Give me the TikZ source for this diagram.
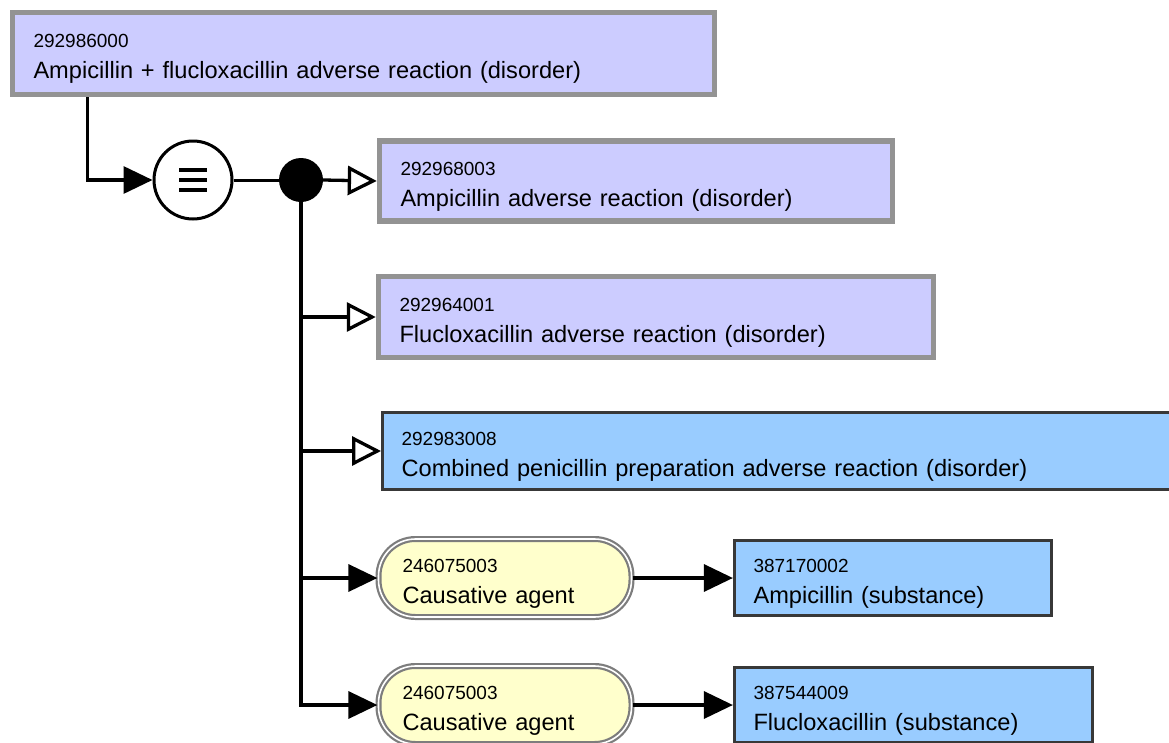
\documentclass[tikz,border=0pt]{standalone}
\usepackage{fontspec}
\setmainfont{Liberation Sans}
\usetikzlibrary{arrows.meta,calc}

\definecolor{lav}{HTML}{CCCCFF}
\definecolor{skyblue}{HTML}{99CCFF}
\definecolor{cream}{HTML}{FFFFCC}
\definecolor{greyedge}{HTML}{939393}
\definecolor{darkedge}{HTML}{383838}

% two-line concept label: identifier above, description below
\newcommand{\conceptlabel}[2]{{\fontsize{19}{31}\selectfont\rule{0pt}{24pt}#1}\\#2}

\tikzset{
  concept/.style={rectangle, align=left, inner ysep=0pt,
    font=\fontsize{23.6}{31}\selectfont},
  defined/.style={concept, fill=lav, draw=greyedge, line width=5.5pt, inner xsep=21pt},
  primitive/.style={concept, fill=skyblue, draw=darkedge, line width=3.2pt, inner xsep=19pt},
  attrib/.style={concept, fill=cream, draw=greyedge!85!black, line width=2.2pt,
    double=white, double distance=1.6pt, rounded corners=37pt, inner xsep=24pt},
  link/.style={line width=3.3pt, draw=black},
  isa/.style={link, -{Triangle[open, fill=white, length=29pt, width=29pt]}},
  rel/.style={link, -{Triangle[length=29pt, width=27pt]}},
}

\begin{document}
\begin{tikzpicture}[x=1pt, y=-1pt]
  \useasboundingbox (0,0) rectangle (1169,742);
  \clip (0,0) rectangle (1169,742);
  \fill[white] (0,0) rectangle (1169,742);

  % focus concept
  \node[defined, text width=660pt, minimum height=82pt] (top) at (363.5,53.5)
    {\conceptlabel{292986000}{Ampicillin + flucloxacillin adverse reaction (disorder)}};

  % equivalence operator and conjunction point
  \node[circle, draw=black, line width=3pt, fill=white, minimum size=78pt, inner sep=0pt] (eq) at (193,180) {};
  \foreach \dy in {-10,0,10}
    \draw[line width=3.3pt] ($(eq)+(-14,\dy)$) -- ($(eq)+(14,\dy)$);
  \node[circle, fill=black, minimum size=44pt, inner sep=0pt] (dot) at (301,180) {};

  % parent concepts
  \node[defined, text width=471pt, minimum height=80pt] (p1) at (636,181)
    {\conceptlabel{292968003}{Ampicillin adverse reaction (disorder)}};
  \node[defined, text width=513pt, minimum height=81pt] (p2) at (656,317)
    {\conceptlabel{292964001}{Flucloxacillin adverse reaction (disorder)}};
  \node[primitive, text width=800pt, minimum height=77pt, anchor=west] (p3) at (381,451)
    {\conceptlabel{292983008}{Combined penicillin preparation adverse reaction (disorder)}};

  % attribute relationships
  \node[attrib, text width=205pt, minimum height=78pt] (a1) at (505,578)
    {\conceptlabel{246075003}{Causative agent}};
  \node[primitive, text width=279pt, minimum height=75pt] (v1) at (893,578)
    {\conceptlabel{387170002}{Ampicillin (substance)}};
  \node[attrib, text width=205pt, minimum height=78pt] (a2) at (505,705)
    {\conceptlabel{246075003}{Causative agent}};
  \node[primitive, text width=320pt, minimum height=75pt] (v2) at (913.5,705)
    {\conceptlabel{387544009}{Flucloxacillin (substance)}};

  % connectors
  \draw[rel] ([xshift=77.5pt]top.south west) |- (eq.west);
  \draw[line width=3pt] (eq.east) -- (dot.west);
  \draw[isa] (dot.east) -- (p1.west);
  \draw[isa] (dot.center) |- (p2.west);
  \draw[isa] (dot.center) |- (p3.west);
  \draw[rel] (dot.center) |- (a1.west);
  \draw[rel] (dot.center) |- (a2.west);
  \draw[rel] (a1.east) -- (v1.west);
  \draw[rel] (a2.east) -- (v2.west);
\end{tikzpicture}
\end{document}
